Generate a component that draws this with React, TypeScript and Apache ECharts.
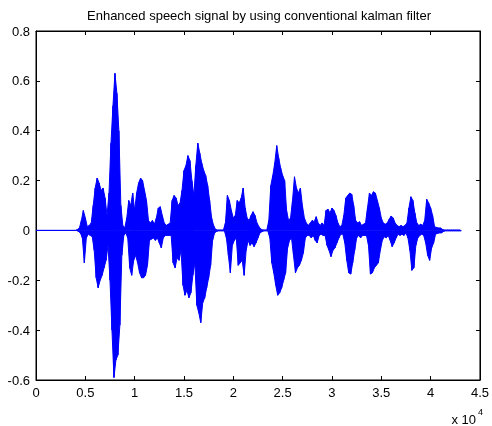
import React, { useEffect, useRef } from "react";
import * as echarts from "echarts";

// Waveform summarised as per-block peak values: each block spans 200 samples.
const BLOCK = 200;

// Upper peak of each block (positive excursion)
const upperPeaks: number[] = [
  0, 0, 0, 0, 0, 0, 0, 0, 0, 0, 0, 0, 0, 0, 0, 0, 0, 0, 0, 0, 0, 0.004,
  0.01, 0.04, 0.08, 0.05, 0.015, 0.02, 0.03, 0.1, 0.17, 0.21, 0.19, 0.16, 0.17, 0.13,
  0.06, 0.15, 0.35, 0.5, 0.63, 0.55, 0.4, 0.1, 0.02, 0.01, 0.05, 0.12, 0.1, 0.15,
  0.08, 0.15, 0.19, 0.21, 0.2, 0.16, 0.12, 0.04, 0.03, 0.04, 0.025, 0.05, 0.09, 0.095,
  0.06, 0.03, 0.02, 0.025, 0.03, 0.12, 0.14, 0.13, 0.1, 0.11, 0.16, 0.24, 0.26, 0.3,
  0.28, 0.2, 0.14, 0.26, 0.35, 0.31, 0.27, 0.24, 0.22, 0.18, 0.12, 0.05, 0.02, 0.004,
  0.002, 0.002, 0.002, 0.002, 0.03, 0.14, 0.12, 0.08, 0.05, 0.06, 0.12, 0.11, 0.13, 0.17,
  0.09, 0.05, 0.04, 0.06, 0.075, 0.06, 0.03, 0.015, 0.005, 0.002, 0.002, 0.002, 0.04, 0.18,
  0.22, 0.27, 0.34, 0.29, 0.25, 0.22, 0.2, 0.08, 0.04, 0.05, 0.12, 0.215, 0.17, 0.15,
  0.17, 0.1, 0.05, 0.03, 0.02, 0.03, 0.04, 0.035, 0.055, 0.03, 0.02, 0.03, 0.02, 0.08,
  0.085, 0.07, 0.09, 0.08, 0.06, 0.03, 0.015, 0.02, 0.06, 0.13, 0.14, 0.15, 0.145, 0.1,
  0.04, 0.03, 0.035, 0.02, 0.025, 0.03, 0.09, 0.15, 0.14, 0.155, 0.15, 0.12, 0.09, 0.05,
  0.03, 0.025, 0.03, 0.045, 0.058, 0.05, 0.03, 0.02, 0.015, 0.02, 0.015, 0.02, 0.03, 0.09,
  0.135, 0.12, 0.07, 0.03, 0.02, 0.025, 0.02, 0.04, 0.125, 0.11, 0.09, 0.06, 0.015, 0.012,
  0.01, 0.01, 0.004, 0.002, 0.002, 0.002, 0.002, 0.002, 0.002, 0.002, 0.002, 0.002,
];

// Lower peak of each block (negative excursion)
const lowerPeaks: number[] = [
  0, 0, 0, 0, 0, 0, 0, 0, 0, 0, 0, 0, 0, 0, 0, 0, 0, 0, 0, 0, 0, -0.004,
  -0.01, -0.03, -0.13, -0.03, -0.015, -0.02, -0.025, -0.08, -0.19, -0.23, -0.2, -0.18, -0.15, -0.12,
  -0.06, -0.2, -0.4, -0.59, -0.52, -0.5, -0.38, -0.1, -0.02, -0.01, -0.03, -0.15, -0.18, -0.12,
  -0.1, -0.13, -0.17, -0.19, -0.19, -0.18, -0.14, -0.04, -0.035, -0.03, -0.04, -0.03, -0.05, -0.07,
  -0.03, -0.02, -0.02, -0.02, -0.02, -0.13, -0.15, -0.11, -0.12, -0.08, -0.22, -0.26, -0.24, -0.27,
  -0.25, -0.18, -0.13, -0.3, -0.33, -0.37, -0.29, -0.27, -0.23, -0.19, -0.14, -0.04, -0.01, -0.004,
  -0.002, -0.002, -0.002, -0.002, -0.03, -0.1, -0.17, -0.06, -0.04, -0.03, -0.14, -0.13, -0.12, -0.18,
  -0.08, -0.04, -0.06, -0.05, -0.065, -0.05, -0.03, -0.01, -0.005, -0.002, -0.002, -0.002, -0.03, -0.13,
  -0.17, -0.22, -0.26, -0.25, -0.23, -0.2, -0.17, -0.07, -0.04, -0.03, -0.1, -0.17, -0.15, -0.14,
  -0.12, -0.09, -0.03, -0.02, -0.02, -0.03, -0.02, -0.04, -0.05, -0.02, -0.015, -0.02, -0.02, -0.06,
  -0.08, -0.105, -0.08, -0.07, -0.05, -0.03, -0.015, -0.015, -0.05, -0.12, -0.17, -0.175, -0.13, -0.08,
  -0.03, -0.02, -0.03, -0.02, -0.02, -0.02, -0.06, -0.175, -0.17, -0.15, -0.14, -0.13, -0.08, -0.04,
  -0.025, -0.03, -0.02, -0.04, -0.065, -0.05, -0.03, -0.015, -0.02, -0.015, -0.02, -0.01, -0.03, -0.08,
  -0.16, -0.15, -0.06, -0.03, -0.02, -0.015, -0.02, -0.05, -0.1, -0.12, -0.07, -0.05, -0.015, -0.012,
  -0.01, -0.01, -0.004, -0.002, -0.002, -0.002, -0.002, -0.002, -0.002, -0.002, -0.002, -0.002,
];

const xTicks: number[] = [0, 0.5, 1, 1.5, 2, 2.5, 3, 3.5, 4, 4.5];
const yTicks: number[] = [-0.6, -0.4, -0.2, 0, 0.2, 0.4, 0.6, 0.8];
const X_SCALE = 10000;

const FONT = "Liberation Sans";
const BLUE = "#0000ff";

const tick = () => ({ show: true, inside: true, length: 4, lineStyle: { color: "#000", width: 1 } });
const axisLine = () => ({ show: true, onZero: false, lineStyle: { color: "#000", width: 1 } });

export default function App() {
  const ref = useRef<HTMLDivElement>(null);

  useEffect(() => {
    if (!ref.current) return;
    const chart = echarts.init(ref.current, undefined, { renderer: "svg" });

    // Peak envelopes, filled towards zero, plus a trace that swings between them
    const upper: [number, number][] = upperPeaks.map((u, i) => [i * BLOCK, u]);
    const lower: [number, number][] = lowerPeaks.map((l, i) => [i * BLOCK + BLOCK / 2, l]);
    const trace: [number, number][] = [];
    upperPeaks.forEach((u, i) => {
      trace.push([i * BLOCK, u]);
      trace.push([i * BLOCK + BLOCK / 2, lowerPeaks[i]]);
    });

    const xMin = xTicks[0] * X_SCALE;
    const xMax = xTicks[xTicks.length - 1] * X_SCALE;
    const xStep = (xTicks[1] - xTicks[0]) * X_SCALE;
    const yMin = yTicks[0];
    const yMax = yTicks[yTicks.length - 1];
    const yStep = 0.2;

    const envelope = (data: [number, number][]) => ({
      type: "line",
      data,
      showSymbol: false,
      symbol: "none",
      lineStyle: { color: BLUE, width: 1 },
      itemStyle: { color: BLUE },
      areaStyle: { color: BLUE, opacity: 1, origin: 0 },
    });

    chart.setOption({
      animation: false,
      grid: {
        left: 36,
        right: 10,
        top: 31,
        bottom: 46,
        show: true,
        borderColor: "#000",
        borderWidth: 1,
      },
      xAxis: [
        {
          type: "value",
          min: xMin,
          max: xMax,
          interval: xStep,
          position: "bottom",
          axisLine: axisLine(),
          axisTick: tick(),
          splitLine: { show: false },
          axisLabel: {
            color: "#000",
            fontSize: 13,
            fontFamily: FONT,
            margin: 6,
            formatter: (v: number) => String(Number((v / X_SCALE).toFixed(1))),
          },
        },
        {
          type: "value",
          min: xMin,
          max: xMax,
          interval: xStep,
          position: "top",
          axisLine: axisLine(),
          axisTick: tick(),
          splitLine: { show: false },
          axisLabel: { show: false },
        },
      ],
      yAxis: [
        {
          type: "value",
          min: yMin,
          max: yMax,
          interval: yStep,
          position: "left",
          axisLine: axisLine(),
          axisTick: tick(),
          splitLine: { show: false },
          axisLabel: {
            color: "#000",
            fontSize: 13,
            fontFamily: FONT,
            margin: 6,
            formatter: (v: number) => String(Number(v.toFixed(1))),
          },
        },
        {
          type: "value",
          min: yMin,
          max: yMax,
          interval: yStep,
          position: "right",
          axisLine: axisLine(),
          axisTick: tick(),
          splitLine: { show: false },
          axisLabel: { show: false },
        },
      ],
      series: [
        envelope(upper),
        envelope(lower),
        {
          type: "line",
          data: trace,
          showSymbol: false,
          symbol: "none",
          lineStyle: { color: BLUE, width: 1 },
          itemStyle: { color: BLUE },
        },
      ],
      graphic: [
        {
          type: "text",
          x: 259,
          y: 15,
          style: {
            text: "Enhanced speech signal by using conventional kalman filter",
            fill: "#000",
            fontSize: 13,
            fontFamily: FONT,
            align: "center",
            verticalAlign: "middle",
          },
        },
        {
          type: "text",
          x: 476,
          y: 419,
          style: {
            text: "x 10",
            fill: "#000",
            fontSize: 13,
            fontFamily: FONT,
            align: "right",
            verticalAlign: "middle",
          },
        },
        {
          type: "text",
          x: 478,
          y: 412,
          style: {
            text: "4",
            fill: "#000",
            fontSize: 9,
            fontFamily: FONT,
            align: "left",
            verticalAlign: "middle",
          },
        },
      ],
    });

    return () => chart.dispose();
  }, []);

  return <div ref={ref} style={{ position: "fixed", left: 0, top: 0, width: 492, height: 426 }} />;
}
